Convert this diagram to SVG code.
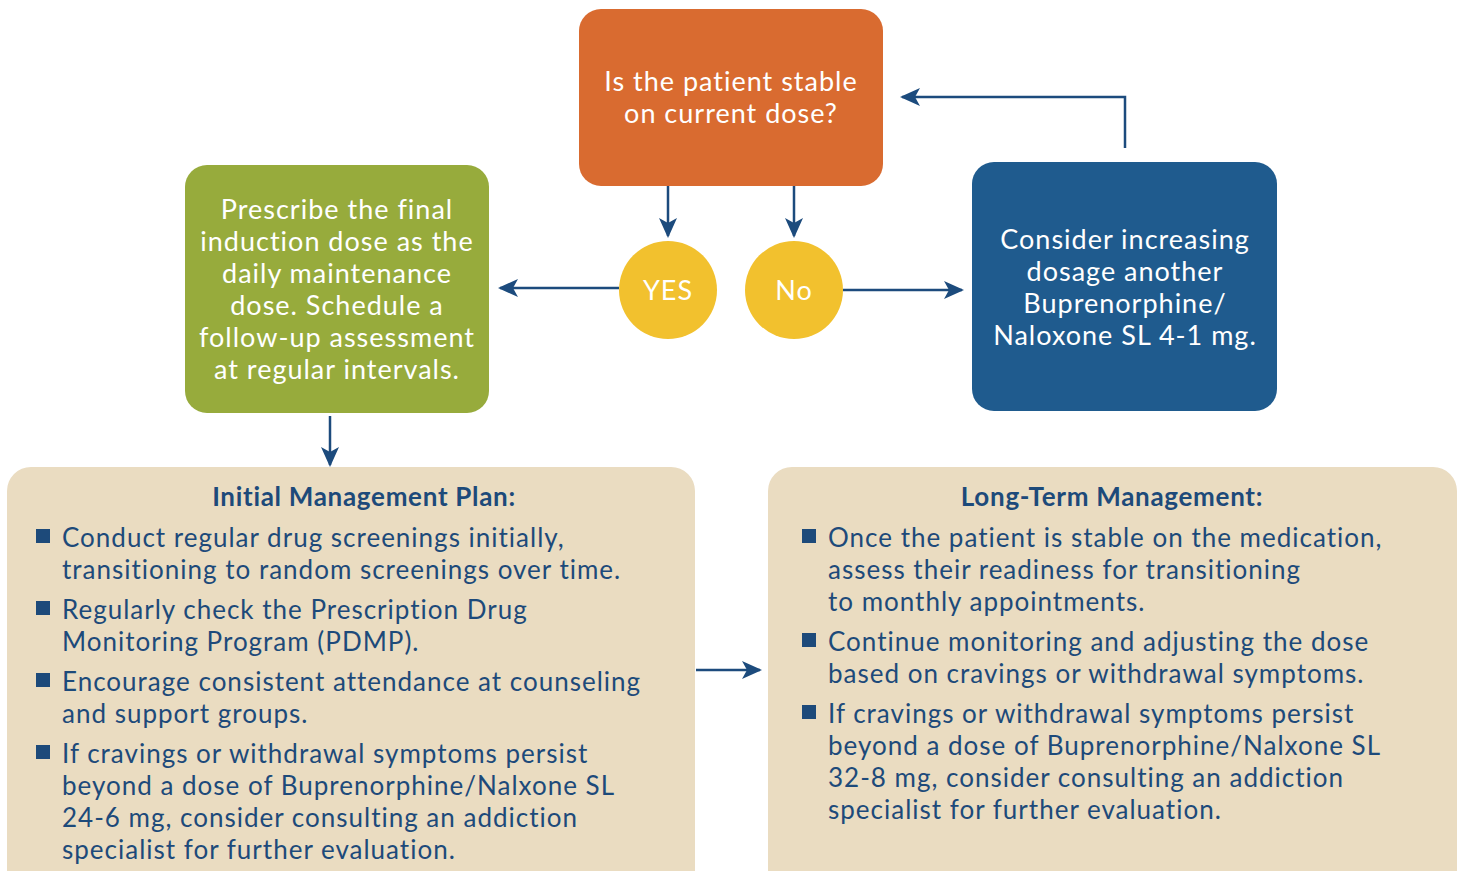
<svg xmlns="http://www.w3.org/2000/svg" width="1465" height="871" viewBox="0 0 1465 871">
<defs>
<marker id="ah" viewBox="0 0 20 20" refX="18" refY="10" markerWidth="20" markerHeight="20" markerUnits="userSpaceOnUse" orient="auto">
<path d="M0,1 L20,10 L0,19 L5,10 z" fill="#1C4B7D"/>
</marker>
<style>
.wt{font-family:Lato,"Open Sans",sans-serif;font-size:27px;letter-spacing:1px;fill:#fff;text-anchor:middle}
.bt{font-family:Lato,"Open Sans",sans-serif;font-size:26px;letter-spacing:1px;fill:#1D4A7A}
.hd{font-family:Lato,"Open Sans",sans-serif;font-size:26px;letter-spacing:0.7px;font-weight:bold;fill:#1D4A7A;text-anchor:middle}
.cn{stroke:#1C4B7D;stroke-width:2.5;fill:none;marker-end:url(#ah)}
.bl{fill:#1D4A7A}
</style>
</defs>
<rect width="1465" height="871" fill="#fff"/>
<g id="q-stable">
<rect x="579" y="9" width="304" height="177" rx="22" fill="#D96B30"/>
<text class="wt" x="731" y="91">Is the patient stable</text>
<text class="wt" x="731" y="123">on current dose?</text>
</g>
<g id="prescribe">
<rect x="185" y="165" width="304" height="248" rx="22" fill="#97AB3C"/>
<text class="wt" x="337" y="219">Prescribe the final</text>
<text class="wt" x="337" y="251">induction dose as the</text>
<text class="wt" x="337" y="283">daily maintenance</text>
<text class="wt" x="337" y="315">dose. Schedule a</text>
<text class="wt" x="337" y="347">follow-up assessment</text>
<text class="wt" x="337" y="379">at regular intervals.</text>
</g>
<g id="increase">
<rect x="972" y="162" width="305" height="249" rx="22" fill="#1F5B8E"/>
<text class="wt" x="1125" y="249">Consider increasing</text>
<text class="wt" x="1125" y="281">dosage another</text>
<text class="wt" x="1125" y="313">Buprenorphine/</text>
<text class="wt" x="1125" y="345">Naloxone SL 4-1 mg.</text>
</g>
<g id="yes">
<circle cx="668" cy="290" r="49" fill="#F2C12E"/>
<text class="wt" x="668" y="300">YES</text>
</g>
<g id="no">
<circle cx="794" cy="290" r="49" fill="#F2C12E"/>
<text class="wt" x="794" y="300">No</text>
</g>
<g id="initial">
<rect x="7" y="467" width="688" height="440" rx="24" fill="#EADCC1"/>
<text class="hd" x="364" y="506">Initial Management Plan:</text>
<rect class="bl" x="36" y="529" width="14" height="14"/>
<text class="bt" x="62" y="547">Conduct regular drug screenings initially,</text>
<text class="bt" x="62" y="579">transitioning to random screenings over time.</text>
<rect class="bl" x="36" y="601" width="14" height="14"/>
<text class="bt" x="62" y="619">Regularly check the Prescription Drug</text>
<text class="bt" x="62" y="651">Monitoring Program (PDMP).</text>
<rect class="bl" x="36" y="673" width="14" height="14"/>
<text class="bt" x="62" y="691">Encourage consistent attendance at counseling</text>
<text class="bt" x="62" y="723">and support groups.</text>
<rect class="bl" x="36" y="745" width="14" height="14"/>
<text class="bt" x="62" y="763">If cravings or withdrawal symptoms persist</text>
<text class="bt" x="62" y="795">beyond a dose of Buprenorphine/Nalxone SL</text>
<text class="bt" x="62" y="827">24-6 mg, consider consulting an addiction</text>
<text class="bt" x="62" y="859">specialist for further evaluation.</text>
</g>
<g id="longterm">
<rect x="768" y="467" width="689" height="440" rx="24" fill="#EADCC1"/>
<text class="hd" x="1112" y="506">Long-Term Management:</text>
<rect class="bl" x="802" y="529" width="14" height="14"/>
<text class="bt" x="828" y="547">Once the patient is stable on the medication,</text>
<text class="bt" x="828" y="579">assess their readiness for transitioning</text>
<text class="bt" x="828" y="611">to monthly appointments.</text>
<rect class="bl" x="802" y="633" width="14" height="14"/>
<text class="bt" x="828" y="651">Continue monitoring and adjusting the dose</text>
<text class="bt" x="828" y="683">based on cravings or withdrawal symptoms.</text>
<rect class="bl" x="802" y="705" width="14" height="14"/>
<text class="bt" x="828" y="723">If cravings or withdrawal symptoms persist</text>
<text class="bt" x="828" y="755">beyond a dose of Buprenorphine/Nalxone SL</text>
<text class="bt" x="828" y="787">32-8 mg, consider consulting an addiction</text>
<text class="bt" x="828" y="819">specialist for further evaluation.</text>
</g>
<g id="connectors">
<line class="cn" x1="668" y1="186" x2="668" y2="236"/>
<line class="cn" x1="794" y1="186" x2="794" y2="236"/>
<line class="cn" x1="619" y1="288" x2="500" y2="288"/>
<line class="cn" x1="843" y1="290" x2="962" y2="290"/>
<polyline class="cn" points="1125,148 1125,97 902,97"/>
<line class="cn" x1="330" y1="416" x2="330" y2="465"/>
<line class="cn" x1="696" y1="670" x2="760" y2="670"/>
</g>
</svg>
